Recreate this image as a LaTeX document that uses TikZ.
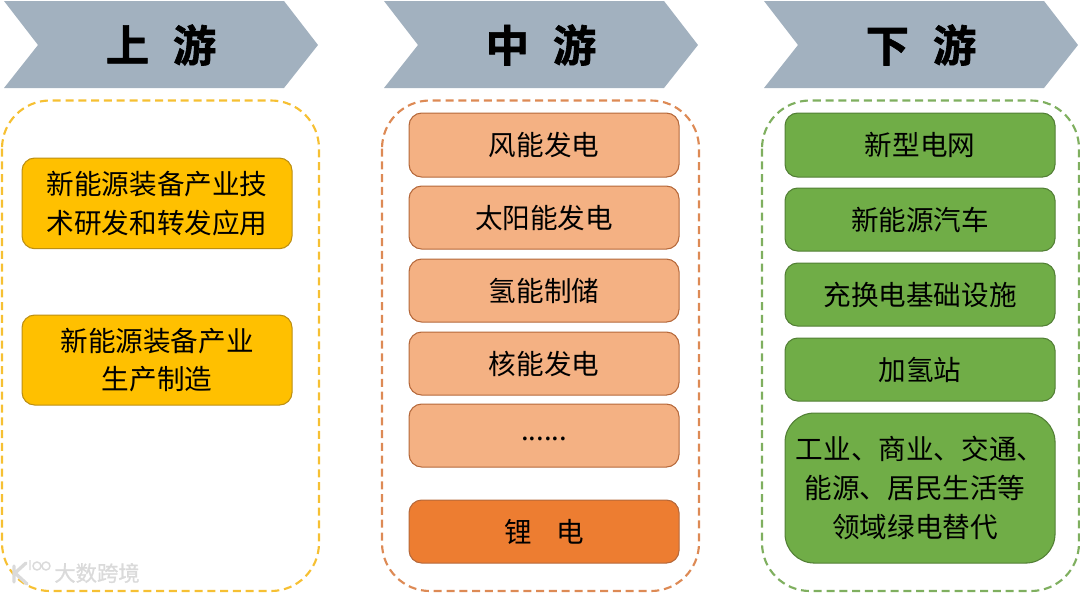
\documentclass[tikz,border=0pt]{standalone}
\usepackage{fontspec}
\setmainfont{Noto Sans CJK SC}
\newfontfamily\cjkbold[FakeBold=1.5]{Noto Sans CJK SC Bold}
\newfontfamily\cjkwm[FakeBold=1]{Noto Sans CJK SC}
\usetikzlibrary{positioning}
\definecolor{headgray}{HTML}{A2B1BF}
\definecolor{ygold}{HTML}{FFC000}
\definecolor{yedge}{HTML}{BC8F13}
\definecolor{osoft}{HTML}{F4B183}
\definecolor{oedge}{HTML}{B5683A}
\definecolor{odark}{HTML}{ED7D31}
\definecolor{gmain}{HTML}{70AD47}
\definecolor{gedge}{HTML}{527F35}
\definecolor{dashy}{HTML}{F6C033}
\definecolor{dasho}{HTML}{DD8A55}
\definecolor{dashg}{HTML}{7FAF5F}
\definecolor{wmark}{HTML}{DADADA}
\tikzset{
  x=0.75pt,y=-0.75pt,
  headtext/.style={font=\fontsize{32.5pt}{36pt}\cjkbold,text=black,inner sep=0pt},
  itembox/.style={rounded corners=9.5pt,line width=0.8pt,minimum width=202.5pt,align=center,
     font=\fontsize{20.7pt}{29pt}\selectfont,text=black,inner sep=0pt,anchor=north west},
  ybox/.style={itembox,fill=ygold,draw=yedge},
  obox/.style={itembox,fill=osoft,draw=oedge},
  dbox/.style={itembox,fill=odark,draw=oedge},
  gbox/.style={itembox,fill=gmain,draw=gedge},
  frame/.style={rounded corners=36pt,line width=1.6pt,dash pattern=on 6pt off 3.6pt},
  chev/.style={fill=headgray},
}
\newcommand{\chevron}[1]{%
  \fill[chev,xshift=#1*0.75pt] (4,1)--(284,1)--(318,45)--(284,88)--(4,88)--(38,45)--cycle;}
\newcommand{\padright}{\rule{0.36em}{0pt}}
\begin{document}
\begin{tikzpicture}
\useasboundingbox (0,0) rectangle (1080,593);
\chevron{0}\chevron{380}\chevron{760}
\node[headtext] (h1) at (161,45) {上\hspace{0.55em}游};
\node[headtext] (h2) at (541,45) {中\hspace{0.55em}游};
\node[headtext] (h3) at (921,45) {下\hspace{0.55em}游};
\draw[frame,draw=dashy] (2,100.5) rectangle (319,591);
\draw[frame,draw=dasho] (382,100.5) rectangle (699,591);
\draw[frame,draw=dashg] (762,100.5) rectangle (1079,591);
\node[ybox,minimum height=68pt] (u1) at (21.5,157.5) {新能源装备产业技\\术研发和转发应用};
\node[ybox,minimum height=67.5pt] (u2) at (21.5,314.5) {新能源装备产业\\生产制造};
\node[obox,minimum height=48pt] (m1) at (408.5,112.5) {风能发电};
\node[obox,minimum height=47.25pt] (m2) at (408.5,185.5) {太阳能发电};
\node[obox,minimum height=47.25pt] (m3) at (408.5,258.5) {氢能制储};
\node[obox,minimum height=47.25pt] (m4) at (408.5,331.5) {核能发电};
\node[obox,minimum height=47.25pt] (m5) at (408.5,403.5) {\raisebox{-4pt}[0pt][0pt]{......}};
\node[dbox,minimum height=47.25pt] (m6) at (408.5,499.5) {锂\hspace{0.9em}电};
\node[gbox,minimum height=48pt] (d1) at (784.5,112.5) {新型电网};
\node[gbox,minimum height=47.25pt] (d2) at (784.5,187.5) {新能源汽车};
\node[gbox,minimum height=47.25pt] (d3) at (784.5,262.5) {充换电基础设施};
\node[gbox,minimum height=47.25pt] (d4) at (784.5,337.5) {加氢站};
\node[gbox,minimum height=112.5pt,rounded corners=22pt] (d5) at (784.5,412.5) {工业、商业、交通、\\能源、居民生活等\padright\\领域绿电替代\padright};
% watermark
\node[font=\fontsize{16pt}{18pt}\cjkwm,text=wmark,inner sep=0pt] (wm) at (97,573) {大数跨境};
\draw[wmark,line width=2.5pt,line cap=round] (14,566)--(14,582) (26,563)--(15,573)--(27,584);
\draw[wmark,line width=1.1pt] (30,560)--(30,570) (37,566) circle[radius=4] (46,566) circle[radius=4];
\end{tikzpicture}
\end{document}
